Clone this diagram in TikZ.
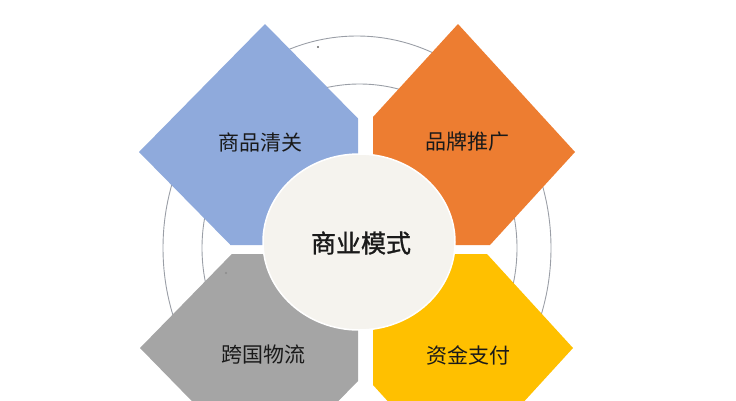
\documentclass[tikz,border=0pt]{standalone}
\usepackage{fontspec}
\newfontfamily\cjk{Noto Sans CJK SC}
\newfontfamily\cjkheavy[FakeBold=1.2]{Noto Sans CJK SC}
\definecolor{qblue}{HTML}{8FAADC}
\definecolor{qorange}{HTML}{ED7D31}
\definecolor{qgray}{HTML}{A5A5A5}
\definecolor{qyellow}{HTML}{FFC000}
\definecolor{qcore}{HTML}{F5F3EE}
\definecolor{qring}{HTML}{9A9EA6}
\definecolor{qtext}{HTML}{1A1A1A}
\begin{document}
\begin{tikzpicture}[x = 1pt, y = -1pt,
  label/.style = {text = qtext, font = \cjk\fontsize{21}{21}\selectfont, inner sep = 0pt},
  ring/.style = {draw = qring, line width = .9pt}]
  \useasboundingbox (0, 0) rectangle (736, 400);
  \clip (0, 0) rectangle (736, 400);

  %%rings
  \draw[ring](357, 248) ellipse [x radius = 194, y radius = 212];
  \draw[ring](359.5, 248) ellipse [x radius = 157.5, y radius = 164];
    \fill[black!60](318, 47) circle (1.2);

  %%t1
  \fill[qblue](265, 24) -- (358, 118.5) -- (358, 245) -- (230.5, 245) -- (139, 152) -- cycle;
  %%t2
  \fill[qorange](458, 24) -- (575, 152) -- (490, 245) -- (373, 245) -- (373, 117) -- cycle;
  %%t3
  \fill[qgray](231.8, 254) -- (358, 254) -- (358, 381) -- (265, 476) -- (140, 348) -- cycle;
    \fill[black!45](226, 273) circle (1.2);
  %%t4
  \fill[qyellow](373, 254) -- (487, 254) -- (573, 348) -- (456, 476) -- (373, 385) -- cycle;

  %%core
  \draw[fill = qcore, draw = white, line width = 1.5pt](359, 242) ellipse [x radius = 96, y radius = 88];

  \node[label] (t1) at (260, 142) {商品清关};
  \node[label] (t2) at (467, 142) {品牌推广};
  \node[label] (t3) at (263, 355) {跨国物流};
  \node[label] (t4) at (468, 355) {资金支付};
  \node[label, font = \cjkheavy\fontsize{25}{25}\selectfont] (core) at (361, 243) {商业模式};

\end{tikzpicture}
\end{document}
